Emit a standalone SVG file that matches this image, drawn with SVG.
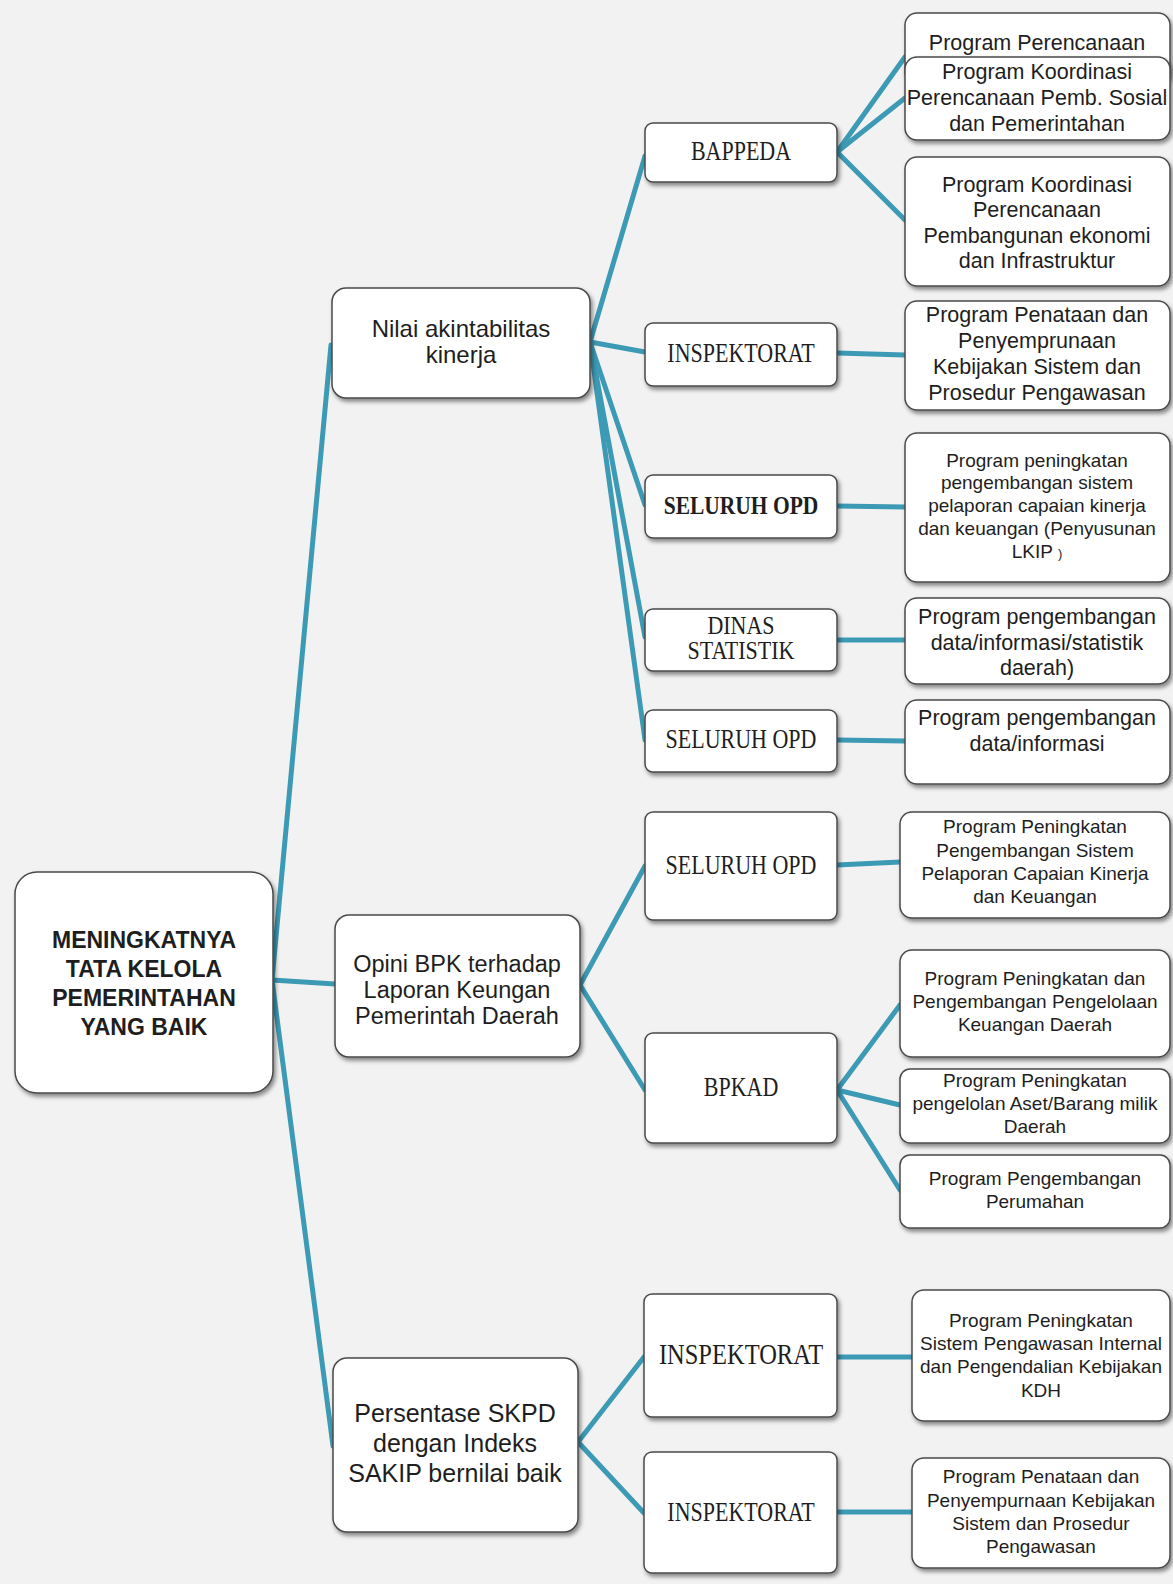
<svg xmlns="http://www.w3.org/2000/svg" width="1173" height="1584" viewBox="0 0 1173 1584">
<defs>
<filter id="sh" x="-10%" y="-10%" width="125%" height="130%">
<feDropShadow dx="2" dy="3" stdDeviation="2" flood-color="#000" flood-opacity="0.45"/>
</filter>
<style>
.box{fill:#fff;stroke:#4a4a4a;stroke-width:1.5;filter:url(#sh)}
.s{font-family:"Liberation Sans",Arial,sans-serif;text-anchor:middle;fill:#1e1e1e}
.r{font-family:"Liberation Serif","Times New Roman",serif;text-anchor:middle;fill:#1e1e1e;font-size:22px}
.c{stroke:#3d9ab5;stroke-width:5;fill:none;stroke-linecap:round}
.p1{font-size:21.5px}
.p2{font-size:19px}
</style>
</defs>
<rect width="1173" height="1584" fill="#f2f2f2"/>

<g id="connectors" class="c">
<path d="M272,980 L331,345"/>
<path d="M272,980 L335,984"/>
<path d="M272,980 L333,1446"/>
<path d="M590,342 L645,156"/>
<path d="M590,342 L645,352"/>
<path d="M590,342 L645,505"/>
<path d="M590,342 L645,637"/>
<path d="M590,342 L645,740"/>
<path d="M837,152 L905,57"/>
<path d="M837,152 L905,98"/>
<path d="M837,152 L905,220"/>
<path d="M837,353 L905,355"/>
<path d="M837,506 L905,507"/>
<path d="M837,640 L905,640"/>
<path d="M837,740 L905,741"/>
<path d="M580,985 L645,866"/>
<path d="M580,985 L645,1090"/>
<path d="M837,865 L900,862"/>
<path d="M837,1090 L900,1005"/>
<path d="M837,1090 L900,1105"/>
<path d="M837,1090 L900,1190"/>
<path d="M578,1442 L644,1357"/>
<path d="M578,1442 L644,1513"/>
<path d="M837,1357 L912,1357"/>
<path d="M837,1512 L912,1512"/>
</g>

<g id="root">
<rect class="box" x="15" y="872" width="258" height="221" rx="22"/>
<text class="s" style="font-size:23px;font-weight:bold" x="144"><tspan x="144" y="948">MENINGKATNYA</tspan><tspan x="144" y="977">TATA KELOLA</tspan><tspan x="144" y="1006">PEMERINTAHAN</tspan><tspan x="144" y="1035">YANG BAIK</tspan></text>
</g>

<g id="nilai">
<rect class="box" x="332" y="288" width="258" height="110" rx="14"/>
<text class="s" style="font-size:24px"><tspan x="461" y="337">Nilai akintabilitas</tspan><tspan x="461" y="363">kinerja</tspan></text>
</g>

<g id="opini">
<rect class="box" x="335" y="915" width="245" height="142" rx="14"/>
<text class="s" style="font-size:23.5px"><tspan x="457" y="972">Opini BPK terhadap</tspan><tspan x="457" y="998">Laporan Keungan</tspan><tspan x="457" y="1024">Pemerintah Daerah</tspan></text>
</g>

<g id="persentase">
<rect class="box" x="333" y="1358" width="245" height="174" rx="14"/>
<text class="s" style="font-size:25px"><tspan x="455" y="1422">Persentase SKPD</tspan><tspan x="455" y="1452">dengan Indeks</tspan><tspan x="455" y="1482">SAKIP bernilai baik</tspan></text>
</g>

<g id="bappeda">
<rect class="box" x="645" y="123" width="192" height="59" rx="8"/>
<text class="r" transform="translate(741,160) scale(1,1.2)" x="0" y="0">BAPPEDA</text>
</g>
<g id="inspektorat1">
<rect class="box" x="645" y="323" width="192" height="63" rx="8"/>
<text class="r" transform="translate(741,362) scale(1,1.2)" x="0" y="0">INSPEKTORAT</text>
</g>
<g id="seluruh-opd-bold">
<rect class="box" x="645" y="475" width="192" height="63" rx="8"/>
<text class="r" style="font-size:21.5px;font-weight:bold" transform="translate(741,514) scale(1,1.2)" x="0" y="0">SELURUH OPD</text>
</g>
<g id="dinas-statistik">
<rect class="box" x="645" y="609" width="192" height="62" rx="8"/>
<text class="r" transform="translate(741,634) scale(1,1.15)"><tspan x="0" y="0">DINAS</tspan><tspan x="0" y="22">STATISTIK</tspan></text>
</g>
<g id="seluruh-opd-1">
<rect class="box" x="645" y="710" width="192" height="62" rx="8"/>
<text class="r" transform="translate(741,748) scale(1,1.2)" x="0" y="0">SELURUH OPD</text>
</g>
<g id="seluruh-opd-2">
<rect class="box" x="645" y="812" width="192" height="108" rx="8"/>
<text class="r" transform="translate(741,874) scale(1,1.2)" x="0" y="0">SELURUH OPD</text>
</g>
<g id="bpkad">
<rect class="box" x="645" y="1033" width="192" height="110" rx="8"/>
<text class="r" transform="translate(741,1096) scale(1,1.2)" x="0" y="0">BPKAD</text>
</g>
<g id="inspektorat2">
<rect class="box" x="644" y="1294" width="193" height="123" rx="8"/>
<text class="r" style="font-size:24.5px" transform="translate(741,1364) scale(1,1.2)" x="0" y="0">INSPEKTORAT</text>
</g>
<g id="inspektorat3">
<rect class="box" x="644" y="1452" width="193" height="121" rx="8"/>
<text class="r" transform="translate(741,1521) scale(1,1.2)" x="0" y="0">INSPEKTORAT</text>
</g>

<g id="prog1">
<rect class="box" x="905" y="13" width="265" height="70" rx="12"/>
<text class="s p1" x="1037" y="50">Program Perencanaan</text>
</g>
<g id="prog2">
<rect class="box" x="905" y="57" width="265" height="83" rx="12"/>
<text class="s p1"><tspan x="1037" y="79">Program Koordinasi</tspan><tspan x="1037" y="105">Perencanaan Pemb. Sosial</tspan><tspan x="1037" y="131">dan Pemerintahan</tspan></text>
</g>
<g id="prog3">
<rect class="box" x="905" y="157" width="265" height="129" rx="12"/>
<text class="s p1"><tspan x="1037" y="192">Program Koordinasi</tspan><tspan x="1037" y="217">Perencanaan</tspan><tspan x="1037" y="243">Pembangunan ekonomi</tspan><tspan x="1037" y="268">dan Infrastruktur</tspan></text>
</g>
<g id="prog4">
<rect class="box" x="905" y="301" width="265" height="109" rx="12"/>
<text class="s p1"><tspan x="1037" y="322">Program Penataan dan</tspan><tspan x="1037" y="348">Penyemprunaan</tspan><tspan x="1037" y="374">Kebijakan Sistem dan</tspan><tspan x="1037" y="400">Prosedur Pengawasan</tspan></text>
</g>
<g id="prog5">
<rect class="box" x="905" y="433" width="265" height="149" rx="12"/>
<text class="s p2"><tspan x="1037" y="467">Program peningkatan</tspan><tspan x="1037" y="489">pengembangan sistem</tspan><tspan x="1037" y="512">pelaporan capaian kinerja</tspan><tspan x="1037" y="535">dan keuangan (Penyusunan</tspan><tspan x="1037" y="558">LKIP <tspan style="font-size:13px">)</tspan></tspan></text>
</g>
<g id="prog6">
<rect class="box" x="905" y="598" width="265" height="86" rx="12"/>
<text class="s p1"><tspan x="1037" y="624">Program pengembangan</tspan><tspan x="1037" y="650">data/informasi/statistik</tspan><tspan x="1037" y="675">daerah)</tspan></text>
</g>
<g id="prog7">
<rect class="box" x="905" y="700" width="265" height="84" rx="12"/>
<text class="s p1"><tspan x="1037" y="725">Program pengembangan</tspan><tspan x="1037" y="751">data/informasi</tspan></text>
</g>
<g id="prog8">
<rect class="box" x="900" y="812" width="270" height="106" rx="12"/>
<text class="s p2"><tspan x="1035" y="833">Program Peningkatan</tspan><tspan x="1035" y="857">Pengembangan Sistem</tspan><tspan x="1035" y="880">Pelaporan Capaian Kinerja</tspan><tspan x="1035" y="903">dan Keuangan</tspan></text>
</g>
<g id="prog9">
<rect class="box" x="900" y="950" width="270" height="107" rx="12"/>
<text class="s p2"><tspan x="1035" y="985">Program Peningkatan dan</tspan><tspan x="1035" y="1008">Pengembangan Pengelolaan</tspan><tspan x="1035" y="1031">Keuangan Daerah</tspan></text>
</g>
<g id="prog10">
<rect class="box" x="900" y="1069" width="270" height="74" rx="10"/>
<text class="s p2"><tspan x="1035" y="1087">Program Peningkatan</tspan><tspan x="1035" y="1110">pengelolan Aset/Barang milik</tspan><tspan x="1035" y="1133">Daerah</tspan></text>
</g>
<g id="prog11">
<rect class="box" x="900" y="1155" width="270" height="73" rx="10"/>
<text class="s p2"><tspan x="1035" y="1185">Program Pengembangan</tspan><tspan x="1035" y="1208">Perumahan</tspan></text>
</g>
<g id="prog12">
<rect class="box" x="912" y="1290" width="258" height="131" rx="12"/>
<text class="s p2"><tspan x="1041" y="1327">Program Peningkatan</tspan><tspan x="1041" y="1350">Sistem Pengawasan Internal</tspan><tspan x="1041" y="1373">dan Pengendalian Kebijakan</tspan><tspan x="1041" y="1397">KDH</tspan></text>
</g>
<g id="prog13">
<rect class="box" x="912" y="1458" width="258" height="110" rx="12"/>
<text class="s p2"><tspan x="1041" y="1483">Program Penataan dan</tspan><tspan x="1041" y="1507">Penyempurnaan Kebijakan</tspan><tspan x="1041" y="1530">Sistem dan Prosedur</tspan><tspan x="1041" y="1553">Pengawasan</tspan></text>
</g>
</svg>
